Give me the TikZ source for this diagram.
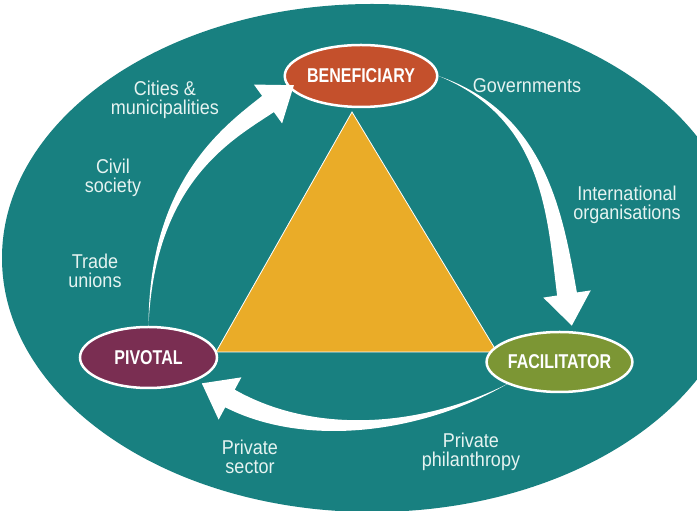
\documentclass[tikz,border=0pt]{standalone}
\usepackage{fontspec}
\setmainfont{Liberation Sans}[FakeStretch=0.9]
\newfontfamily\rolefont{Liberation Sans}[FakeStretch=0.8]
\usetikzlibrary{shapes.geometric}
\usetikzlibrary{calc}
\definecolor{tl}{RGB}{24, 128, 128}
\definecolor{gd}{RGB}{234, 172, 40}
\definecolor{bn}{RGB}{196, 80, 44}
\definecolor{fc}{RGB}{124, 150, 52}
\definecolor{pv}{RGB}{122, 46, 82}
\definecolor{lb}{RGB}{230, 243, 241}
\tikzset{
    role/.style={ellipse, draw=white, line width=2.5pt, inner sep=0pt, text=white,
        font=\rolefont\bfseries\fontsize{20}{20}\selectfont},
    actor/.style={align=center, text=lb, font=\fontsize{20}{19}\selectfont},
}
% tapered white arrow: tail, control 1, control 2, head base
\newcommand{\flow}[4]{%
    \coordinate (hd) at ($(#4)!-32pt!(#3)$);
    \fill[white] (#1) .. controls ($(#2)!3pt!-90:(#1)$) and ($(#3)!8pt!90:(#4)$) .. ($(#4)!10pt!90:(hd)$)
        -- ($(#4)!24pt!90:(hd)$) -- (hd) -- ($(#4)!24pt!-90:(hd)$) -- ($(#4)!10pt!-90:(hd)$)
        .. controls ($(#3)!8pt!-90:(#4)$) and ($(#2)!3pt!90:(#1)$) .. (#1) -- cycle;}

\begin{document}
\begin{tikzpicture}[x=1pt, y=1pt]
        \useasboundingbox (0,0) rectangle (697,511);
        \fill[white] (0,0) rectangle (697,511);
        \begin{scope}
            \clip (0,0) rectangle (697,511);
            \fill[tl] (372,253) ellipse [x radius=370, y radius=254];
        \end{scope}
        \filldraw[fill=gd, draw=white, line width=0.8pt] (352,399) -- (216,159) -- (497,159) -- cycle;
        \node[role, fill=bn, minimum width=142pt, minimum height=62pt] (ben) at (361,435) {BENEFICIARY};
        \node[role, fill=fc, minimum width=135pt, minimum height=60pt] (fac) at (559.5,149) {FACILITATOR};
        \node[role, fill=pv, minimum width=137pt, minimum height=61pt] (piv) at (148.5,153.5) {PIVOTAL};
        % arrows round the triangle
        \coordinate (pb1) at (152,330);
        \coordinate (pb2) at (228,378);
        \coordinate (pbh) at (268,407);
        \flow{piv.north}{pb1}{pb2}{pbh}
        \coordinate (bf1) at (545,395);
        \coordinate (bf2) at (555,296);
        \coordinate (bfh) at (567,217);
        \flow{ben.east}{bf1}{bf2}{bfh}
        \coordinate (fp1) at (420,80);
        \coordinate (fp2) at (309,70);
        \coordinate (fph) at (230,112.5);
        \flow{fac.south west}{fp1}{fp2}{fph}
        % who is who
        \node[actor] (cities) at (165,411) {Cities \&\\municipalities};
        \node[actor] (civil) at (113,333) {Civil\\society};
        \node[actor] (trade) at (95,240) {Trade\\unions};
        \node[actor] (govs) at (527,425) {Governments};
        \node[actor] (intl) at (627,306) {International\\organisations};
        \node[actor] (phil) at (471,59) {Private\\philanthropy};
        \node[actor] (sector) at (250,54) {Private\\sector};
    \end{tikzpicture}
\end{document}
